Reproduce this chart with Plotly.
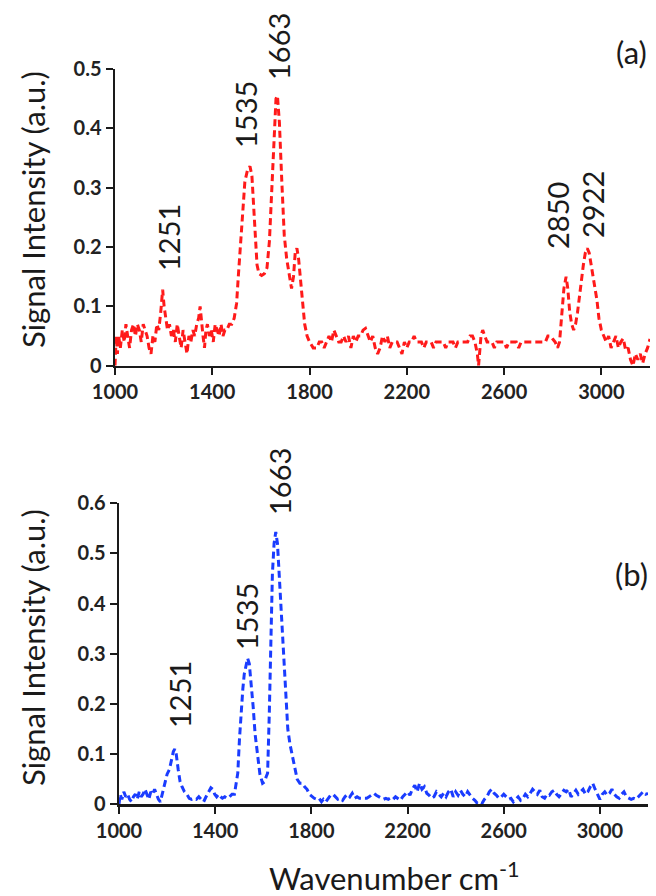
import plotly.graph_objects as go

# ---------------- data ----------------
wn_a = [1000, 1005, 1010, 1015, 1022, 1030, 1038, 1045, 1052, 1060, 1068, 1076, 1084, 1092, 1100,
        1108, 1116, 1124, 1132, 1140, 1148, 1156, 1164, 1172, 1180, 1188, 1196, 1202, 1208, 1216,
        1224, 1232, 1240, 1248, 1256, 1264, 1272, 1280, 1288, 1296, 1304, 1312, 1320, 1328, 1336,
        1344, 1350, 1356, 1362, 1368, 1374, 1380, 1388, 1396, 1404, 1412, 1420, 1428, 1436, 1444,
        1452, 1460, 1470, 1480, 1490, 1500, 1507, 1515, 1524, 1534, 1545, 1555, 1563, 1570, 1577,
        1584, 1592, 1603, 1614, 1625, 1635, 1645, 1655, 1662, 1668, 1676, 1686, 1696, 1706, 1716,
        1726, 1734, 1741, 1748, 1755, 1764, 1772, 1780, 1790, 1800, 1815, 1830, 1840, 1850, 1860,
        1870, 1880, 1890, 1900, 1910, 1920, 1930, 1940, 1950, 1960, 1970, 1980, 1990, 2000, 2010,
        2020, 2030, 2040, 2050, 2060, 2070, 2080, 2090, 2100, 2110, 2120, 2130, 2140, 2150, 2160,
        2170, 2180, 2190, 2200, 2210, 2220, 2230, 2240, 2250, 2260, 2270, 2280, 2290, 2300, 2310,
        2320, 2330, 2340, 2350, 2360, 2370, 2380, 2390, 2400, 2410, 2420, 2430, 2440, 2450, 2460,
        2470, 2480, 2490, 2495, 2500, 2505, 2512, 2520, 2530, 2540, 2550, 2560, 2570, 2580, 2590,
        2600, 2610, 2620, 2630, 2640, 2650, 2660, 2670, 2680, 2690, 2700, 2710, 2720, 2730, 2740,
        2750, 2760, 2770, 2780, 2790, 2800, 2810, 2820, 2828, 2836, 2846, 2855, 2862, 2870, 2878,
        2886, 2894, 2902, 2910, 2918, 2926, 2934, 2942, 2950, 2958, 2966, 2974, 2982, 2990, 3000,
        3010, 3020, 3030, 3040, 3050, 3060, 3070, 3080, 3090, 3100, 3110, 3120, 3130, 3140, 3150,
        3160, 3170, 3180, 3190, 3200]
int_a = [0.00, 0.05, 0.02, 0.05, 0.03, 0.06, 0.04, 0.07, 0.05, 0.03, 0.06, 0.07, 0.05, 0.07, 0.06,
         0.04, 0.07, 0.06, 0.05, 0.03, 0.02, 0.05, 0.04, 0.07, 0.06, 0.09, 0.128, 0.10, 0.08, 0.06,
         0.07, 0.05, 0.06, 0.04, 0.07, 0.05, 0.03, 0.06, 0.04, 0.02, 0.05, 0.04, 0.06, 0.05, 0.07,
         0.08, 0.10, 0.07, 0.05, 0.03, 0.06, 0.07, 0.05, 0.06, 0.04, 0.07, 0.06, 0.05, 0.07, 0.05,
         0.06, 0.06, 0.07, 0.07, 0.08, 0.105, 0.15, 0.20, 0.26, 0.31, 0.33, 0.336, 0.32, 0.27, 0.21,
         0.17, 0.155, 0.152, 0.155, 0.165, 0.21, 0.30, 0.41, 0.45, 0.455, 0.41, 0.31, 0.22, 0.18, 0.155,
         0.13, 0.15, 0.19, 0.198, 0.18, 0.14, 0.10, 0.07, 0.05, 0.04, 0.03, 0.03, 0.04, 0.04, 0.03,
         0.04, 0.05, 0.04, 0.06, 0.05, 0.04, 0.04, 0.05, 0.04, 0.05, 0.03, 0.05, 0.04, 0.05, 0.05,
         0.06, 0.063, 0.05, 0.04, 0.05, 0.03, 0.02, 0.03, 0.05, 0.04, 0.05, 0.03, 0.04, 0.04, 0.04,
         0.03, 0.02, 0.04, 0.03, 0.04, 0.04, 0.05, 0.04, 0.04, 0.04, 0.03, 0.04, 0.04, 0.04, 0.03,
         0.04, 0.04, 0.04, 0.04, 0.03, 0.04, 0.04, 0.04, 0.03, 0.04, 0.04, 0.04, 0.04, 0.04, 0.05,
         0.05, 0.04, 0.02, 0.00, 0.03, 0.05, 0.06, 0.05, 0.04, 0.04, 0.04, 0.03, 0.04, 0.04, 0.04,
         0.04, 0.03, 0.04, 0.04, 0.04, 0.04, 0.03, 0.04, 0.04, 0.04, 0.04, 0.04, 0.04, 0.04, 0.04,
         0.04, 0.04, 0.04, 0.05, 0.05, 0.045, 0.04, 0.03, 0.04, 0.08, 0.13, 0.15, 0.13, 0.09, 0.07,
         0.06, 0.07, 0.09, 0.12, 0.14, 0.17, 0.19, 0.198, 0.19, 0.17, 0.15, 0.13, 0.11, 0.08, 0.06,
         0.05, 0.04, 0.05, 0.03, 0.04, 0.05, 0.03, 0.04, 0.046, 0.026, 0.03, 0.01, 0.00, 0.02, 0.01,
         0.02, 0.004, 0.02, 0.03, 0.045]

wn_b = [1000, 1005, 1012, 1020, 1028, 1036, 1044, 1052, 1060, 1068, 1076, 1084, 1092, 1100, 1108,
        1116, 1124, 1132, 1140, 1148, 1156, 1164, 1172, 1180, 1190, 1200, 1210, 1218, 1226, 1232,
        1238, 1246, 1254, 1262, 1272, 1282, 1292, 1302, 1312, 1322, 1332, 1342, 1352, 1362, 1372,
        1382, 1390, 1398, 1406, 1414, 1422, 1430, 1440, 1450, 1460, 1470, 1480, 1488, 1494, 1501,
        1508, 1515, 1521, 1528, 1535, 1542, 1550, 1558, 1566, 1576, 1586, 1597, 1606, 1612, 1618,
        1625, 1632, 1638, 1645, 1652, 1659, 1666, 1673, 1680, 1687, 1694, 1702, 1711, 1721, 1731,
        1741, 1752, 1762, 1772, 1782, 1792, 1802, 1812, 1822, 1832, 1842, 1850, 1860, 1870, 1880,
        1890, 1900, 1910, 1920, 1930, 1940, 1950, 1960, 1970, 1980, 1990, 2000, 2010, 2020, 2030,
        2040, 2050, 2060, 2070, 2080, 2090, 2100, 2110, 2120, 2130, 2140, 2150, 2160, 2170, 2180,
        2190, 2200, 2210, 2220, 2230, 2240, 2250, 2260, 2270, 2280, 2290, 2300, 2310, 2320, 2330,
        2340, 2350, 2360, 2370, 2380, 2390, 2400, 2410, 2420, 2430, 2440, 2450, 2460, 2470, 2480,
        2490, 2500, 2510, 2520, 2530, 2540, 2550, 2560, 2570, 2580, 2590, 2600, 2610, 2620, 2630,
        2640, 2650, 2660, 2670, 2680, 2690, 2700, 2710, 2720, 2730, 2740, 2750, 2760, 2770, 2780,
        2790, 2800, 2810, 2820, 2830, 2840, 2850, 2860, 2870, 2880, 2890, 2900, 2910, 2920, 2930,
        2940, 2950, 2960, 2970, 2980, 2990, 3000, 3010, 3020, 3030, 3040, 3050, 3060, 3070, 3080,
        3090, 3100, 3110, 3120, 3130, 3140, 3150, 3160, 3170, 3180, 3190, 3200]
int_b = [0.00, 0.02, 0.01, 0.025, 0.015, 0.02, 0.01, 0.005, 0.015, 0.02, 0.01, 0.025, 0.015, 0.02, 0.03,
         0.02, 0.01, 0.025, 0.02, 0.03, 0.02, 0.01, 0.005, 0.02, 0.04, 0.06, 0.07, 0.09, 0.105, 0.11,
         0.10, 0.07, 0.045, 0.035, 0.025, 0.02, 0.012, 0.01, 0.012, 0.01, 0.015, 0.01, 0.005, 0.015, 0.025,
         0.033, 0.03, 0.02, 0.015, 0.02, 0.015, 0.012, 0.015, 0.012, 0.015, 0.02, 0.02, 0.04, 0.062, 0.13,
         0.194, 0.23, 0.26, 0.28, 0.291, 0.28, 0.24, 0.194, 0.14, 0.095, 0.06, 0.042, 0.045, 0.055, 0.062,
         0.18, 0.33, 0.46, 0.52, 0.543, 0.52, 0.46, 0.40, 0.33, 0.26, 0.194, 0.15, 0.12, 0.095, 0.07,
         0.05, 0.042, 0.042, 0.035, 0.03, 0.02, 0.015, 0.012, 0.01, 0.012, 0.005, 0.01, 0.005, 0.012, 0.018,
         0.02, 0.015, 0.01, 0.012, 0.008, 0.015, 0.02, 0.015, 0.022, 0.012, 0.015, 0.012, 0.012, 0.013, 0.012,
         0.015, 0.018, 0.022, 0.018, 0.015, 0.012, 0.01, 0.012, 0.01, 0.013, 0.01, 0.015, 0.012, 0.008, 0.015,
         0.02, 0.025, 0.018, 0.03, 0.038, 0.025, 0.042, 0.03, 0.035, 0.022, 0.018, 0.012, 0.015, 0.025, 0.02,
         0.015, 0.022, 0.015, 0.025, 0.03, 0.015, 0.025, 0.018, 0.028, 0.02, 0.015, 0.025, 0.018, 0.012, 0.008,
         0.002, 0.005, 0.002, 0.01, 0.015, 0.025, 0.03, 0.022, 0.018, 0.012, 0.015, 0.02, 0.015, 0.01, 0.012,
         0.005, 0.01, 0.015, 0.008, 0.012, 0.02, 0.015, 0.022, 0.03, 0.025, 0.02, 0.028, 0.015, 0.012, 0.02,
         0.018, 0.025, 0.028, 0.02, 0.015, 0.022, 0.028, 0.025, 0.03, 0.015, 0.022, 0.028, 0.02, 0.025, 0.03,
         0.02, 0.025, 0.035, 0.042, 0.03, 0.02, 0.01, 0.02, 0.025, 0.018, 0.022, 0.03, 0.02, 0.015, 0.012,
         0.02, 0.025, 0.015, 0.012, 0.01, 0.012, 0.01, 0.015, 0.02, 0.025, 0.02, 0.022]

x_ticks = [1000, 1400, 1800, 2200, 2600, 3000]
y_ticks_a = [0, 0.1, 0.2, 0.3, 0.4, 0.5]
y_ticks_b = [0, 0.1, 0.2, 0.3, 0.4, 0.5, 0.6]

peaks_a = ["1251", "1535", "1663", "2850", "2922"]
peaks_b = ["1251", "1535", "1663"]

y_title = "Signal Intensity (a.u.)"
x_title = "Wavenumber cm<sup>-1</sup>"

# ---------------- layout geometry (pixels in the 656x896 page) ----------------
W, H = 656, 896
peaks_a_pos = [(168, 238), (245, 115), (279, 47), (557, 216), (593, 205)]
peaks_b_pos = [(179, 695), (246, 617), (279, 482)]


def px(x):
    return x / W


def py(y):
    return 1 - y / H


fig = go.Figure()
fig.add_trace(go.Scatter(x=wn_a, y=int_a, mode="lines", xaxis="x", yaxis="y",
                         line=dict(color="#ff1a1a", width=3, dash="7px,4px"),
                         showlegend=False, hoverinfo="skip", cliponaxis=False))
fig.add_trace(go.Scatter(x=wn_b, y=int_b, mode="lines", xaxis="x2", yaxis="y2",
                         line=dict(color="#1a3cff", width=3, dash="7px,4px"),
                         showlegend=False, hoverinfo="skip", cliponaxis=False))

tickfont = dict(family="Lato, Open Sans, sans-serif", size=20, color="#222222", weight="bold")
axis_common = dict(showline=True, linecolor="#1a1a1a", linewidth=2.5, ticks="outside",
                   ticklen=7, tickwidth=2, tickcolor="#1a1a1a", showgrid=False, zeroline=False,
                   tickfont=tickfont, fixedrange=True, automargin=False)

fig.update_layout(
    width=W, height=H, autosize=False,
    margin=dict(l=0, r=0, t=0, b=0, pad=0, autoexpand=False),
    paper_bgcolor="white", plot_bgcolor="white",
    xaxis=dict(domain=[px(115), px(650)], range=[1000, 3200], tickvals=x_ticks,
               anchor="y", **axis_common),
    yaxis=dict(domain=[py(365.7), py(69)], range=[0, 0.5], tickvals=y_ticks_a,
               anchor="x", **axis_common),
    xaxis2=dict(domain=[px(119), px(648)], range=[1000, 3200], tickvals=x_ticks,
                anchor="y2", **axis_common),
    yaxis2=dict(domain=[py(804.3), py(503.3)], range=[0, 0.6], tickvals=y_ticks_b,
                anchor="x2", **axis_common),
)

label_font = dict(family="Lato, Open Sans, sans-serif", size=29, color="#1a1a1a")
ann = []
for t, (x, y) in zip(peaks_a + peaks_b, peaks_a_pos + peaks_b_pos):
    ann.append(dict(text=t, x=px(x), y=py(y), xref="paper", yref="paper", showarrow=False,
                    textangle=-90, xanchor="center", yanchor="middle", font=label_font))

title_font = dict(family="Lato, Open Sans, sans-serif", size=31, color="#1a1a1a")
ann.append(dict(text="(a)", x=px(631), y=py(52), xref="paper", yref="paper", showarrow=False,
                xanchor="center", yanchor="middle", font=title_font))
ann.append(dict(text="(b)", x=px(631), y=py(574), xref="paper", yref="paper", showarrow=False,
                xanchor="center", yanchor="middle", font=title_font))
ann.append(dict(text=y_title, x=px(33), y=py(210), xref="paper", yref="paper", showarrow=False,
                textangle=-90, xanchor="center", yanchor="middle", font=title_font))
ann.append(dict(text=y_title, x=px(33), y=py(648), xref="paper", yref="paper", showarrow=False,
                textangle=-90, xanchor="center", yanchor="middle", font=title_font))
ann.append(dict(text=x_title, x=px(394), y=py(876), xref="paper", yref="paper", showarrow=False,
                xanchor="center", yanchor="middle", font=title_font))
fig.update_layout(annotations=ann)

fig.write_html("out.html",
               config={"displayModeBar": False, "staticPlot": True},
               post_script="document.body.style.margin='0px';document.body.style.padding='0px';"
                           "document.documentElement.style.overflow='hidden';")
